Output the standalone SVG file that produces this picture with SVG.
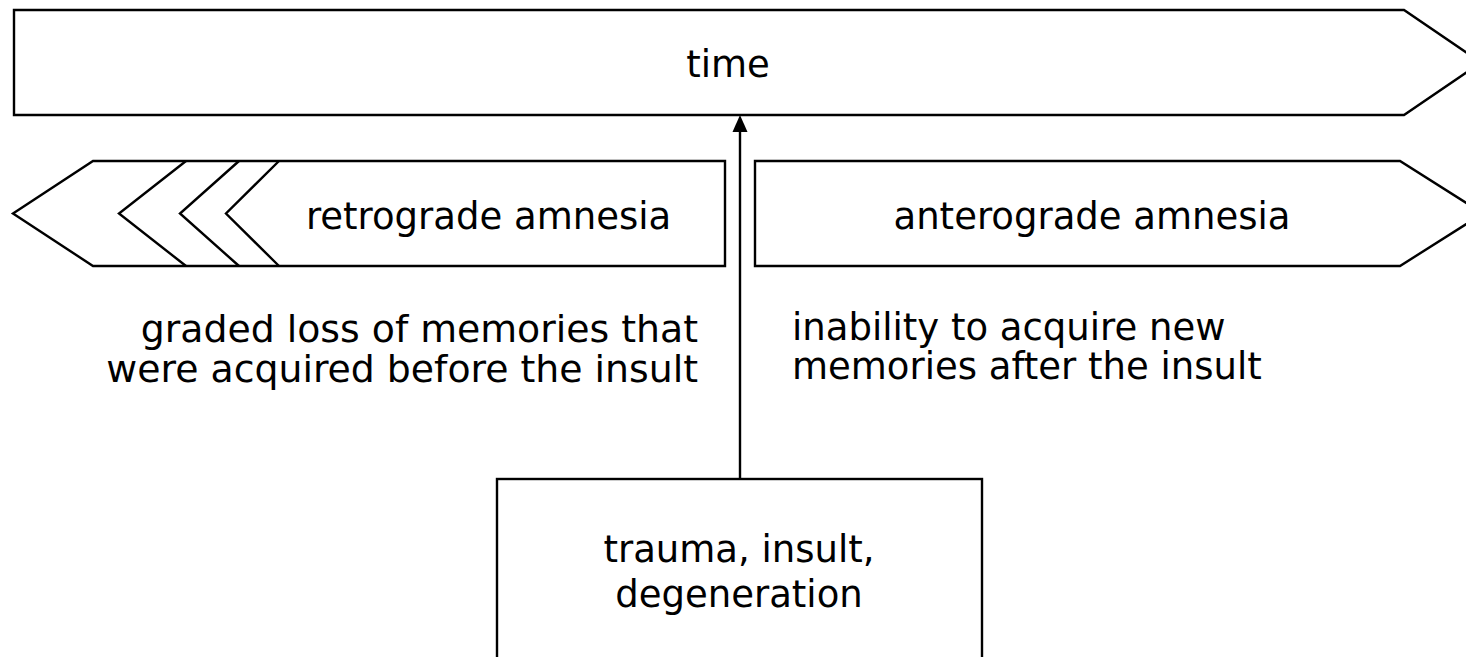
<svg xmlns="http://www.w3.org/2000/svg" width="1466" height="657" viewBox="0 0 1466 657">
<style>
.s{fill:#fff;stroke:#000;stroke-width:2.4;stroke-linejoin:miter}
.l{fill:none;stroke:#000;stroke-width:2.4}
.t{font-family:"DejaVu Sans",sans-serif;font-size:37px;fill:#000}
.w{font-size:37.8px}
.c{text-anchor:middle}
.r{text-anchor:end}
</style>
<rect width="1466" height="657" fill="#fff"/>
<g id="time">
<path class="s" d="M14,10 H1404 L1481,62.5 L1404,115 H14 Z"/>
<text class="t c" x="728" y="77">time</text>
</g>
<g id="retrograde">
<path class="s" d="M13,213.5 L93,161 H725 V266 H93 Z"/>
<path class="l" d="M186,161 L119,213.5 L186,266 M239,161 L180,213.5 L239,266 M279,161 L226,213.5 L279,266"/>
<text class="t c" x="488.5" y="229">retrograde amnesia</text>
</g>
<g id="anterograde">
<path class="s" d="M755,161 H1400 L1483,213.5 L1400,266 H755 Z"/>
<text class="t c" x="1092" y="229">anterograde amnesia</text>
</g>
<g id="retro-desc">
<text class="t w r" x="698" y="342">graded loss of memories that</text>
<text class="t w r" x="698" y="382">were acquired before the insult</text>
</g>
<g id="antero-desc">
<text class="t" x="792" y="340">inability to acquire new</text>
<text class="t" x="792" y="379">memories after the insult</text>
</g>
<g id="cause">
<rect class="s" x="497" y="479" width="485" height="220"/>
<text class="t c" x="739" y="562">trauma, insult,</text>
<text class="t c" x="739" y="607">degeneration</text>
</g>
<g id="connectors">
<line class="l" x1="740" y1="479" x2="740" y2="130"/>
<polygon points="740,115 732.5,132 747.5,132" fill="#000"/>
</g>
</svg>
